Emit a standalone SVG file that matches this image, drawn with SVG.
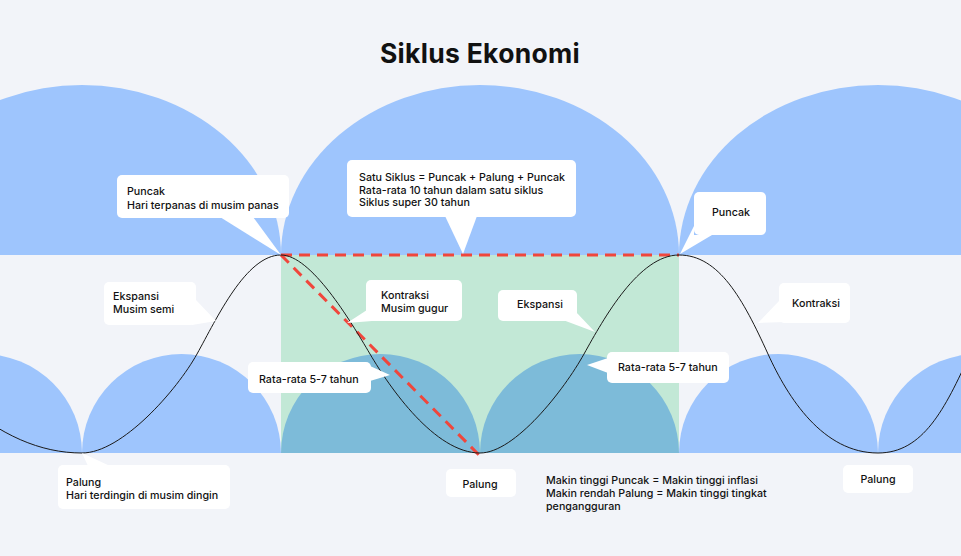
<svg xmlns="http://www.w3.org/2000/svg" width="961" height="556" viewBox="0 0 961 556">
  <style>
    .dome { fill: #9ec5fd; }
    .dome-dark { fill: #7dbbd9; }
    .box { fill: #ffffff; }
    .lbl { font-family: Inter, "Noto Sans", sans-serif; font-size: 10.7px; font-weight: 500; fill: #111111; }
    .title { font-family: Inter, "Noto Sans", sans-serif; font-size: 26.5px; font-weight: 700; letter-spacing: 0.3px; fill: #111111; }
    .dash { stroke: #f0463c; stroke-width: 3; stroke-dasharray: 11 7; fill: none; }
    .wave { stroke: #1a1a1a; stroke-width: 1; fill: none; }
  </style>
  <rect x="0" y="0" width="961" height="556" fill="#f2f4f9"/>

  <g id="background-shapes">
    <path class="dome" d="M -117,255 A 199,170 0 0 1 281,255 Z"/>
    <path class="dome" d="M 281,255 A 199,170 0 0 1 679,255 Z"/>
    <path class="dome" d="M 679,255 A 199,170 0 0 1 1077,255 Z"/>
    <path class="dome" d="M -117,453 A 99.5,99 0 0 1 82,453 Z"/>
    <path class="dome" d="M 82,453 A 99.5,99 0 0 1 281,453 Z"/>
    <path class="dome" d="M 679,453 A 99.5,99 0 0 1 878,453 Z"/>
    <path class="dome" d="M 878,453 A 99.5,99 0 0 1 1077,453 Z"/>
    <rect x="281" y="255" width="398" height="198" fill="#c2e8d6"/>
    <path class="dome-dark" d="M 281,453 A 99.5,99 0 0 1 480,453 Z"/>
    <path class="dome-dark" d="M 480,453 A 99.5,99 0 0 1 679,453 Z"/>
  </g>

  <g id="title">
    <text class="title" x="480" y="63" text-anchor="middle">Siklus Ekonomi</text>
  </g>

  <g id="connectors">
    <line class="dash" x1="281" y1="255" x2="679" y2="255"/>
    <line class="dash" x1="281" y1="255" x2="480" y2="456"/>
    <path class="wave" d="M -40,400 C 0,435 40,453 82,453 C 122,453 177,390 197,354 C 217,318 246,255 281,255 C 311,255 350,320 370,354 C 390,388 435,453 480,453 C 515,453 564,390 584,354 C 604,318 639,255 679,255 C 719,255 743,299 768,354 C 788,398 823,453 878,453 C 923,453 945,409 970,354 C 990,310 1037,255 1077,255"/>
  </g>

  <g id="callout-puncak-left">
    <rect class="box" x="117" y="175" width="172" height="43" rx="5"/>
    <polygon class="box" points="220,217 253,217 281,255"/>
    <text class="lbl" x="127" y="195">Puncak</text>
    <text class="lbl" x="127" y="208.5">Hari terpanas di musim panas</text>
  </g>

  <g id="callout-siklus">
    <rect class="box" x="347" y="160" width="229" height="57" rx="5"/>
    <polygon class="box" points="445,216 477,216 463,254"/>
    <text class="lbl" x="359" y="181">Satu Siklus = Puncak + Palung + Puncak</text>
    <text class="lbl" x="359" y="193.5">Rata-rata 10 tahun dalam satu siklus</text>
    <text class="lbl" x="359" y="206">Siklus super 30 tahun</text>
  </g>

  <g id="callout-puncak-right">
    <rect class="box" x="694" y="192" width="72" height="43" rx="5"/>
    <polygon class="box" points="694,226 694,235 712,235 680,254"/>
    <text class="lbl" x="712" y="216">Puncak</text>
  </g>

  <g id="callout-ekspansi-left">
    <rect class="box" x="104" y="282" width="92" height="43" rx="5"/>
    <polygon class="box" points="195,299 216,321 192,325"/>
    <text class="lbl" x="113" y="300">Ekspansi</text>
    <text class="lbl" x="113" y="313">Musim semi</text>
  </g>

  <g id="callout-kontraksi-left">
    <rect class="box" x="366" y="280" width="96" height="41" rx="5"/>
    <polygon class="box" points="367,310 347,323 372,321"/>
    <text class="lbl" x="381" y="299">Kontraksi</text>
    <text class="lbl" x="381" y="312">Musim gugur</text>
  </g>

  <g id="callout-rata-left">
    <rect class="box" x="248" y="362" width="123" height="31" rx="5"/>
    <polygon class="box" points="370,366 390,375 370,381"/>
    <text class="lbl" x="259" y="383">Rata-rata 5-7 tahun</text>
  </g>

  <g id="callout-palung-left">
    <rect class="box" x="58" y="465" width="172" height="44" rx="5"/>
    <polygon class="box" points="88,466 82,453 110,466"/>
    <text class="lbl" x="66" y="486">Palung</text>
    <text class="lbl" x="66" y="498.5">Hari terdingin di musim dingin</text>
  </g>

  <g id="callout-palung-mid">
    <rect class="box" x="446" y="469" width="70" height="28" rx="5"/>
    <text class="lbl" x="480" y="487.5" text-anchor="middle">Palung</text>
  </g>

  <g id="callout-ekspansi-mid">
    <rect class="box" x="498" y="290" width="79" height="31" rx="5"/>
    <polygon class="box" points="576,312 595,332 563,320"/>
    <text class="lbl" x="517" y="308">Ekspansi</text>
  </g>

  <g id="callout-rata-right">
    <rect class="box" x="607" y="352" width="122" height="31" rx="5"/>
    <polygon class="box" points="608,358 587,365 608,373"/>
    <text class="lbl" x="618" y="371">Rata-rata 5-7 tahun</text>
  </g>

  <g id="callout-kontraksi-right">
    <rect class="box" x="779" y="283" width="71" height="40" rx="5"/>
    <polygon class="box" points="780,300 758,323 786,322"/>
    <text class="lbl" x="792" y="307">Kontraksi</text>
  </g>

  <g id="callout-palung-right">
    <rect class="box" x="843" y="465" width="70" height="28" rx="5"/>
    <text class="lbl" x="878" y="483" text-anchor="middle">Palung</text>
  </g>

  <g id="note">
    <text class="lbl" x="546" y="484">Makin tinggi Puncak = Makin tinggi inflasi</text>
    <text class="lbl" x="546" y="497">Makin rendah Palung = Makin tinggi tingkat</text>
    <text class="lbl" x="546" y="510">pengangguran</text>
  </g>
</svg>
